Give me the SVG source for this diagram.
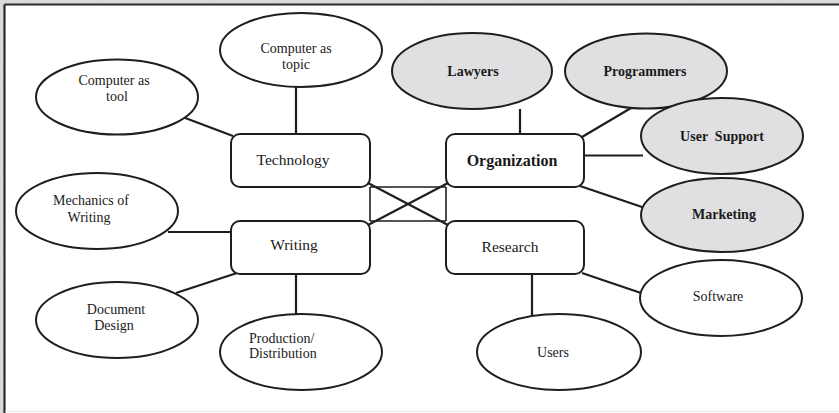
<svg xmlns="http://www.w3.org/2000/svg" width="839" height="413" viewBox="0 0 839 413">
  <defs>
    <filter id="grain" x="0" y="0" width="100%" height="100%">
      <feTurbulence type="fractalNoise" baseFrequency="0.9" numOctaves="2" seed="3" result="n"/>
      <feColorMatrix in="n" type="matrix" values="0 0 0 0 0.82  0 0 0 0 0.82  0 0 0 0 0.82  0 0 0 0.35 0" result="g"/>
      <feComposite in="g" in2="SourceGraphic" operator="in"/>
    </filter>
  </defs>
  <style>
    .oval { fill: #ffffff; stroke: #1e1e1e; stroke-width: 2; }
    .oval.grey { fill: #e0e0e2; }
    .box { fill: #ffffff; stroke: #1e1e1e; stroke-width: 2; }
    .link { stroke: #1e1e1e; stroke-width: 2.2; fill: none; }
    .thin { stroke: #1e1e1e; stroke-width: 1.6; fill: none; }
    text { font-family: "Liberation Serif", "Times New Roman", serif; fill: #1a1a1a; }
    .lbl { font-size: 14px; text-anchor: middle; }
    .lbl.b { font-weight: bold; }
    .hub { font-size: 15.5px; text-anchor: middle; }
    .hub.b { font-weight: bold; font-size: 16px; }
  </style>

  <!-- page surround and frame -->
  <rect x="0" y="0" width="839" height="413" fill="#d6d6d6"/>
  <rect x="0" y="0" width="839" height="413" fill="#ffffff" filter="url(#grain)"/>
  <rect x="5" y="5" width="834" height="408" fill="#ffffff"/>
  <line x1="4.5" y1="4.5" x2="839" y2="4.5" stroke="#2a2a2a" stroke-width="2.2"/>
  <line x1="4.5" y1="4.5" x2="4.5" y2="413" stroke="#2a2a2a" stroke-width="2.2"/>
  <line x1="5" y1="411.5" x2="839" y2="411.5" stroke="#e6e6e6" stroke-width="1"/>

  <!-- connectors -->
  <g id="connectors">
    <line class="link" x1="172" y1="113" x2="233" y2="136"/>
    <line class="link" x1="296" y1="87" x2="296" y2="134"/>
    <line class="link" x1="520" y1="109" x2="520" y2="134"/>
    <line class="link" x1="631" y1="108" x2="582" y2="137"/>
    <line class="link" x1="584" y1="155.5" x2="643" y2="155.5"/>
    <line class="link" x1="580" y1="186" x2="645" y2="208"/>
    <line class="link" x1="168" y1="232" x2="231" y2="232"/>
    <line class="link" x1="176" y1="293" x2="237" y2="273"/>
    <line class="link" x1="296" y1="274" x2="296" y2="314"/>
    <line class="link" x1="532" y1="274" x2="532" y2="316"/>
    <line class="link" x1="582" y1="273" x2="641" y2="293"/>
    <!-- central cross between the four hubs -->
    <line class="thin" x1="370" y1="187" x2="446" y2="187"/>
    <line class="thin" x1="370" y1="221" x2="446" y2="221"/>
    <line class="thin" x1="370" y1="187" x2="370" y2="221"/>
    <line class="thin" x1="446" y1="187" x2="446" y2="221"/>
    <line class="link" x1="368" y1="183" x2="448" y2="225"/>
    <line class="link" x1="368" y1="225" x2="448" y2="183"/>
  </g>

  <!-- hub boxes -->
  <g id="technology">
    <rect class="box" x="231" y="134" width="139" height="53" rx="9"/>
    <text class="hub" x="293" y="165">Technology</text>
  </g>
  <g id="organization">
    <rect class="box" x="446" y="134" width="138" height="53" rx="9"/>
    <text class="hub b" x="512" y="166">Organization</text>
  </g>
  <g id="writing">
    <rect class="box" x="231" y="221" width="139" height="53" rx="9"/>
    <text class="hub" x="294" y="250">Writing</text>
  </g>
  <g id="research">
    <rect class="box" x="446" y="221" width="138" height="53" rx="9"/>
    <text class="hub" x="510" y="252">Research</text>
  </g>

  <!-- technology topics -->
  <g id="computer-tool">
    <ellipse class="oval" cx="117" cy="97" rx="81" ry="37.5"/>
    <text class="lbl" x="114" y="85">Computer as</text>
    <text class="lbl" x="117" y="101">tool</text>
  </g>
  <g id="computer-topic">
    <ellipse class="oval" cx="301" cy="50" rx="81" ry="37"/>
    <text class="lbl" x="296" y="53">Computer as</text>
    <text class="lbl" x="296" y="69">topic</text>
  </g>

  <!-- organization roles -->
  <g id="lawyers">
    <ellipse class="oval grey" cx="472" cy="71" rx="80" ry="38"/>
    <text class="lbl b" x="473" y="76">Lawyers</text>
  </g>
  <g id="programmers">
    <ellipse class="oval grey" cx="646" cy="71" rx="81" ry="37.5"/>
    <text class="lbl b" x="645" y="76">Programmers</text>
  </g>
  <g id="user-support">
    <ellipse class="oval grey" cx="722" cy="136" rx="81" ry="38"/>
    <text class="lbl b" x="722" y="141" xml:space="preserve">User  Support</text>
  </g>
  <g id="marketing">
    <ellipse class="oval grey" cx="722" cy="215" rx="81" ry="37"/>
    <text class="lbl b" x="724" y="219">Marketing</text>
  </g>

  <!-- writing topics -->
  <g id="mechanics">
    <ellipse class="oval" cx="97" cy="211" rx="81" ry="38"/>
    <text class="lbl" x="91" y="205">Mechanics of</text>
    <text class="lbl" x="89" y="222">Writing</text>
  </g>
  <g id="document-design">
    <ellipse class="oval" cx="117" cy="320" rx="81" ry="38"/>
    <text class="lbl" x="116" y="314">Document</text>
    <text class="lbl" x="114" y="330">Design</text>
  </g>
  <g id="production">
    <ellipse class="oval" cx="301" cy="352" rx="81" ry="38"/>
    <text class="lbl" x="249" y="343" text-anchor="start" style="text-anchor:start">Production/</text>
    <text class="lbl" x="249" y="358" style="text-anchor:start">Distribution</text>
  </g>

  <!-- research topics -->
  <g id="software">
    <ellipse class="oval" cx="721" cy="298" rx="81" ry="38"/>
    <text class="lbl" x="718" y="301">Software</text>
  </g>
  <g id="users">
    <ellipse class="oval" cx="559" cy="352" rx="82" ry="38"/>
    <text class="lbl" x="553" y="357">Users</text>
  </g>
</svg>
